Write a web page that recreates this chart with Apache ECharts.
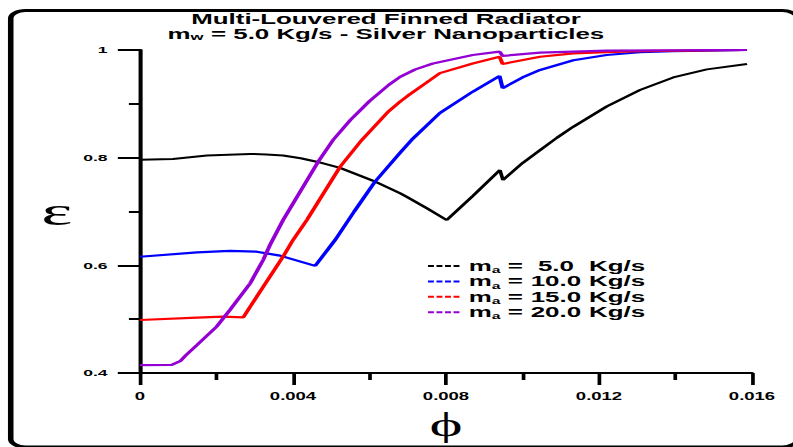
<!DOCTYPE html>
<html>
<head>
<meta charset="utf-8">
<script src="https://cdn.jsdelivr.net/npm/echarts@6/dist/echarts.min.js"></script>
<style>
  html, body { margin: 0; padding: 0; background: #fff; overflow: hidden; }
  #wrap { width: 793px; height: 447px; overflow: hidden; position: relative; }
  #chart { position: absolute; left: 0; top: 0; height: 447px; transform-origin: 0 0; }
</style>
</head>
<body>
<div id="wrap"><div id="chart"></div></div>
<script>
// Effectiveness of a multi-louvered finned radiator vs. nanoparticle volume fraction
const massFlows = ['5.0', '10.0', '15.0', '20.0'];
const lineColors = ['#000000', '#0000ff', '#ff0000', '#9400d3'];

const phiA = [0, 0.00086, 0.00175, 0.0025, 0.00288, 0.0033, 0.00374, 0.0042, 0.00462, 0.00523,
  0.0061, 0.0068, 0.00697, 0.0075, 0.00802, 0.0087, 0.00941, 0.00949, 0.01, 0.01046,
  0.0109, 0.01133, 0.0122, 0.01307, 0.01394, 0.01482, 0.01587];
const epsA = [0.796, 0.7975, 0.804, 0.806, 0.807, 0.806, 0.804, 0.799, 0.7925, 0.781,
  0.757, 0.734, 0.7275, 0.706, 0.684, 0.729, 0.777, 0.7585, 0.79, 0.814,
  0.837, 0.8575, 0.895, 0.9257, 0.949, 0.964, 0.974];

const phiB = [0, 0.00149, 0.00235, 0.00305, 0.00366, 0.00458, 0.00497, 0.0051, 0.0056, 0.00614,
  0.0068, 0.0071, 0.00784, 0.0087, 0.0094, 0.00948, 0.01, 0.01046, 0.01133, 0.0122,
  0.01307, 0.01394, 0.01482, 0.01587];
const epsB = [0.616, 0.624, 0.627, 0.6253, 0.618, 0.599, 0.635, 0.647, 0.70, 0.755,
  0.809, 0.833, 0.883, 0.9226, 0.9517, 0.929, 0.949, 0.963, 0.981, 0.9907,
  0.9958, 0.9978, 0.9987, 1.0];

const phiC = [0, 0.00149, 0.00217, 0.0027, 0.00322, 0.00374, 0.004, 0.00436, 0.00523, 0.0058,
  0.0065, 0.0068, 0.007, 0.0075, 0.00784, 0.0087, 0.0094, 0.00948, 0.01046, 0.01133,
  0.0122, 0.01307, 0.01587];
const epsC = [0.4985, 0.503, 0.5046, 0.5035, 0.560, 0.616, 0.647, 0.684, 0.783, 0.833,
  0.886, 0.904, 0.915, 0.94, 0.957, 0.975, 0.9875, 0.974, 0.9875, 0.9938,
  0.996, 0.998, 1.0];

const phiD = [0, 0.00083, 0.00105, 0.0012, 0.00149, 0.002, 0.00235, 0.00288, 0.00322, 0.0034,
  0.00374, 0.00466, 0.00505, 0.0055, 0.006, 0.0065, 0.0068, 0.0072, 0.00766, 0.0087,
  0.0094, 0.00948, 0.01046, 0.0122, 0.01587];
const epsD = [0.4145, 0.415, 0.422, 0.433, 0.452, 0.486, 0.517, 0.5666, 0.61, 0.638,
  0.684, 0.7925, 0.833, 0.87, 0.905, 0.935, 0.95, 0.964, 0.975, 0.9907,
  0.997, 0.989, 0.995, 0.999, 1.0];

const phiSets = [phiA, phiB, phiC, phiD];
const epsSets = [epsA, epsB, epsC, epsD];

const xTickLabels = ['0', '0.004', '0.008', '0.012', '0.016'];
const yTickLabels = ['0.4', '0.6', '0.8', '1'];

// The figure is laid out narrow and widened horizontally as a whole.
const STRETCH = 1.85;
const W = 793 / STRETCH;
const el = document.getElementById('chart');
el.style.width = W + 'px';
el.style.transform = 'scaleX(' + STRETCH + ')';

const sans = '"Liberation Sans", Arial, sans-serif';
const serif = '"Liberation Serif", "DejaVu Serif", serif';

const chart = echarts.init(el, null, { renderer: 'svg', width: W, height: 447 });

const series = massFlows.map((m, k) => ({
  name: m,
  type: 'line',
  data: phiSets[k].map((p, i) => [p, epsSets[k][i]]),
  showSymbol: false,
  color: lineColors[k],
  lineStyle: { color: lineColors[k], width: k === 0 ? 2 : 2.2 },
  z: 3 + k,
  silent: true
}));

chart.setOption({
  animation: false,
  backgroundColor: '#fff',
  title: {
    left: 386 / STRETCH,
    top: 11,
    padding: 0,
    textAlign: 'center',
    text: '{a|Multi-Louvered Finned Radiator}\n{a|m}{s|w}{a| = 5.0 Kg/s - Silver Nanoparticles}',
    textStyle: {
      rich: {
        a: { fontFamily: sans, fontWeight: 'bold', fontSize: 14, color: '#000', lineHeight: 15 },
        s: { fontFamily: sans, fontWeight: 'bold', fontSize: 9, color: '#000', lineHeight: 4, verticalAlign: 'bottom' }
      }
    }
  },
  grid: {
    left: 140 / STRETCH, right: W - 752 / STRETCH, top: 50, bottom: 74,
    containLabel: false, outerBoundsMode: 'none'
  },
  xAxis: {
    type: 'value', min: 0, max: 0.016, interval: 0.004,
    name: 'ϕ', nameLocation: 'middle', nameGap: 35,
    nameTextStyle: { fontFamily: serif, fontSize: 34, color: '#000' },
    axisLine: { show: true, onZero: false, lineStyle: { color: '#000', width: 2 } },
    axisTick: { show: true, length: 12, lineStyle: { color: '#000', width: 2 } },
    minorTick: { show: true, splitNumber: 2, length: 7, lineStyle: { color: '#000', width: 2 } },
    splitLine: { show: false },
    axisLabel: {
      margin: 19, color: '#000', fontFamily: sans, fontWeight: 'bold', fontSize: 10,
      formatter: v => xTickLabels[Math.round(v / 0.004)]
    }
  },
  yAxis: {
    type: 'value', min: 0.4, max: 1, interval: 0.2,
    name: 'ε', nameLocation: 'middle', nameGap: 22, nameRotate: 0,
    nameTextStyle: { fontFamily: serif, fontSize: 40, color: '#000' },
    axisLine: { show: true, onZero: false, lineStyle: { color: '#000', width: 2.2 } },
    axisTick: { show: true, length: 12, lineStyle: { color: '#000', width: 2 } },
    minorTick: { show: true, splitNumber: 2, length: 6, lineStyle: { color: '#000', width: 2 } },
    splitLine: { show: false },
    axisLabel: {
      margin: 17.5, color: '#000', fontFamily: sans, fontWeight: 'bold', fontSize: 9.5,
      formatter: v => yTickLabels[Math.round((v - 0.4) / 0.2)]
    }
  },
  legend: {
    orient: 'vertical',
    left: 428 / STRETCH,
    top: 259,
    padding: 0,
    itemWidth: 17,
    itemHeight: 2,
    itemGap: -0.6,
    selectedMode: false,
    icon: 'path://M0,0h3.2v2h-3.2z M4.6,0h3.2v2h-3.2z M9.2,0h3.2v2h-3.2z M13.8,0h3.2v2h-3.2z',
    itemStyle: { borderWidth: 0 },
    data: massFlows,
    formatter: name => '{m|m}{s|a}{t| = }{v|' + name + '}{t| Kg/s}',
    textStyle: {
      color: '#000',
      rich: {
        m: { fontFamily: sans, fontWeight: 'bold', fontSize: 14, color: '#000', lineHeight: 18 },
        s: { fontFamily: sans, fontWeight: 'bold', fontSize: 8.5, color: '#000', lineHeight: 2, verticalAlign: 'bottom' },
        t: { fontFamily: sans, fontWeight: 'bold', fontSize: 14, color: '#000', lineHeight: 18 },
        v: { fontFamily: sans, fontWeight: 'bold', fontSize: 14, color: '#000', lineHeight: 18, width: 28, align: 'right' }
      }
    }
  },
  graphic: [{
    type: 'rect',
    silent: true,
    z: 10,
    shape: { x: 5.8, y: 10.5, width: 797 / STRETCH - 5.8, height: 436.5, r: 8 },
    style: { fill: 'none', stroke: '#000', lineWidth: 3 }
  }],
  series: series
});
</script>
</body>
</html>
